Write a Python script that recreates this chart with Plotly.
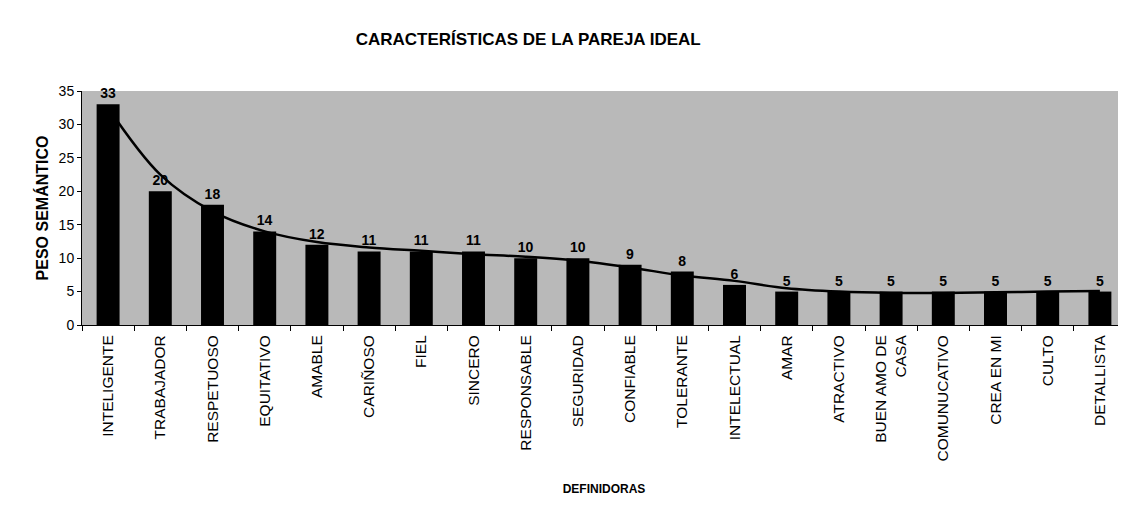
import plotly.graph_objects as go

# Daten
definidoras = [
    "INTELIGENTE", "TRABAJADOR", "RESPETUOSO", "EQUITATIVO", "AMABLE",
    "CARIÑOSO", "FIEL", "SINCERO", "RESPONSABLE", "SEGURIDAD",
    "CONFIABLE", "TOLERANTE", "INTELECTUAL", "AMAR", "ATRACTIVO",
    "BUEN AMO DE<br>CASA", "COMUNUCATIVO", "CREA EN MI", "CULTO", "DETALLISTA",
]
peso_semantico = [33, 20, 18, 14, 12, 11, 11, 11, 10, 10, 9, 8, 6, 5, 5, 5, 5, 5, 5, 5]

linea_tendencia = [32.5, 22.5, 17, 14, 12.4, 11.6, 11.1, 10.6, 10.2, 9.6,
                   8.6, 7.4, 6.6, 5.5, 5.0, 4.8, 4.8, 4.9, 5.0, 5.1]

FONT = "Arial, Liberation Sans, sans-serif"

fig = go.Figure()

fig.add_trace(go.Bar(
    x=definidoras,
    y=peso_semantico,
    marker=dict(color="black", line=dict(width=0)),
    text=[f"<b>{v}</b>" for v in peso_semantico],
    textposition="outside",
    textfont=dict(family=FONT, size=14, color="black"),
    cliponaxis=False,
    showlegend=False,
    hoverinfo="skip",
))

fig.add_trace(go.Scatter(
    x=definidoras,
    y=linea_tendencia,
    mode="lines",
    line=dict(color="black", width=2.5, shape="spline", smoothing=1.0),
    showlegend=False,
    hoverinfo="skip",
))

fig.update_layout(
    width=1126,
    height=511,
    margin=dict(l=74, r=8, t=83, b=194, autoexpand=False),
    paper_bgcolor="white",
    plot_bgcolor="#b9b9b9",
    bargap=0.56,
    font=dict(family=FONT, color="black"),
    title=dict(
        text="<b>CARACTERÍSTICAS DE LA PAREJA IDEAL</b>",
        x=0.462, xanchor="center",
        y=0.94, yanchor="middle",
        font=dict(family=FONT, size=17, color="black"),
    ),
    xaxis=dict(
        title=dict(text="<b>DEFINIDORAS</b>", font=dict(family=FONT, size=12), standoff=24),
        tickangle=-90,
        tickfont=dict(family=FONT, size=15.5),
        ticklabelstandoff=3,
        ticks="outside",
        tickson="boundaries",
        ticklen=5,
        tickcolor="black",
        showline=True,
        linecolor="black",
        linewidth=1,
        showgrid=False,
        automargin=False,
    ),
    yaxis=dict(
        title=dict(text="<b>PESO SEMÁNTICO</b>", font=dict(family=FONT, size=16), standoff=6),
        range=[0, 35],
        dtick=5,
        tickfont=dict(family=FONT, size=14),
        ticks="outside",
        ticklen=4,
        tickcolor="black",
        showline=True,
        linecolor="black",
        linewidth=1,
        showgrid=False,
        zeroline=False,
        automargin=False,
    ),
)

fig.write_html("out.html")
